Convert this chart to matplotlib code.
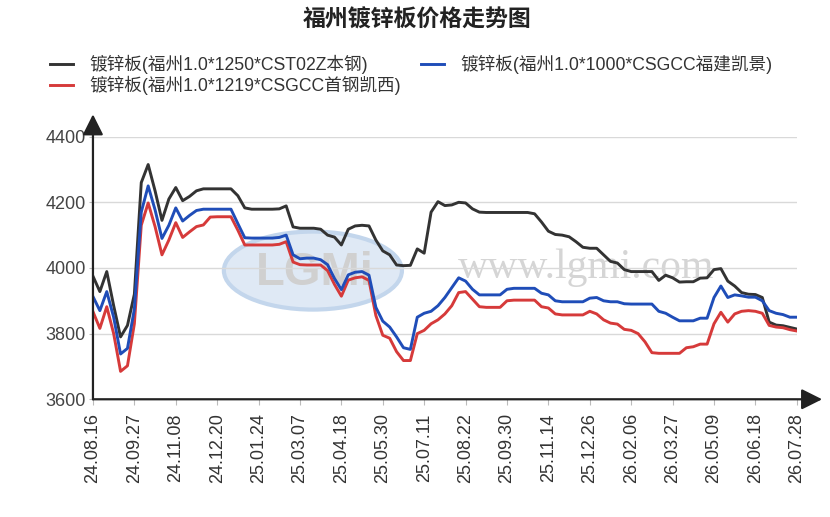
import numpy as np
import matplotlib.pyplot as plt
from matplotlib.patches import Ellipse

plt.rcParams['font.family'] = ['Liberation Sans', 'Noto Sans CJK SC', 'DejaVu Sans']

title = '福州镀锌板价格走势图'
names = ['镀锌板(福州1.0*1250*CST02Z本钢)',
         '镀锌板(福州1.0*1219*CSGCC首钢凯西)',
         '镀锌板(福州1.0*1000*CSGCC福建凯景)']

tick_labels = ['24.08.16', '24.09.27', '24.11.08', '24.12.20', '25.01.24', '25.03.07',
               '25.04.18', '25.05.30', '25.07.11', '25.08.22', '25.09.30', '25.11.14',
               '25.12.26', '26.02.06', '26.03.27', '26.05.09', '26.06.18', '26.07.28']

# 本钢 1250
black = [3975, 3928, 3989, 3885, 3790, 3825, 3920, 4260, 4315, 4235, 4145, 4210,
         4245, 4205, 4218, 4235, 4241, 4241, 4241, 4241, 4241, 4220, 4183, 4179,
         4179, 4179, 4179, 4180, 4189, 4125, 4121, 4121, 4121, 4118, 4100, 4094,
         4070, 4118, 4128, 4130, 4128, 4085, 4052, 4040, 4009, 4007, 4008, 4058,
         4045, 4170, 4202, 4190, 4192, 4200, 4198, 4180, 4170, 4169, 4169, 4169,
         4169, 4169, 4169, 4169, 4165, 4140, 4112, 4102, 4100, 4095, 4080, 4063,
         4060, 4060, 4040, 4020, 4015, 3995, 3989, 3989, 3989, 3989, 3962, 3978,
         3970, 3957, 3958, 3958, 3969, 3970, 3995, 3998, 3960, 3945, 3925, 3920,
         3919, 3910, 3835, 3826, 3824, 3819, 3814]

# 首钢凯西 1219
red = [3867, 3816, 3882, 3800, 3685, 3702, 3830, 4130, 4198, 4126, 4040, 4085,
       4138, 4093, 4110, 4126, 4131, 4155, 4156, 4156, 4156, 4115, 4070, 4070,
       4070, 4070, 4070, 4072, 4080, 4018, 4010, 4009, 4009, 4009, 3992, 3950,
       3914, 3963, 3970, 3973, 3962, 3855, 3795, 3786, 3745, 3718, 3718, 3800,
       3810, 3830, 3842, 3860, 3885, 3925, 3928, 3905, 3882, 3880, 3880, 3880,
       3900, 3902, 3902, 3902, 3902, 3882, 3878, 3860, 3857, 3857, 3857, 3857,
       3868, 3860, 3842, 3832, 3829, 3813, 3810, 3800, 3775, 3742, 3740, 3740,
       3740, 3740, 3757, 3760, 3768, 3768, 3830, 3865, 3835, 3860, 3868, 3870,
       3868, 3862, 3825, 3820, 3818, 3812, 3808]

# 福建凯景 1000
blue = [3913, 3870, 3928, 3850, 3738, 3755, 3875, 4170, 4250, 4177, 4090, 4130,
        4183, 4143, 4160, 4175, 4179, 4179, 4179, 4179, 4179, 4135, 4092, 4091,
        4091, 4091, 4091, 4093, 4100, 4040, 4028, 4030, 4030, 4025, 4010, 3968,
        3934, 3979, 3987, 3989, 3978, 3880, 3838, 3820, 3790, 3757, 3752, 3850,
        3862, 3868, 3885, 3910, 3940, 3970, 3960, 3935, 3918, 3918, 3918, 3918,
        3935, 3938, 3938, 3938, 3938, 3923, 3918, 3900, 3897, 3897, 3897, 3897,
        3908, 3910, 3900, 3897, 3897, 3891, 3890, 3890, 3890, 3890, 3868, 3862,
        3850, 3839, 3839, 3839, 3847, 3847, 3910, 3945, 3910, 3918, 3915, 3911,
        3911, 3900, 3870, 3862, 3858, 3850, 3850]

x = np.arange(len(black))
step = (len(black) - 1) // (len(tick_labels) - 1)

fig = plt.figure(figsize=(8.3, 5.17), dpi=100)
ax = fig.add_axes([0.112, 0.2277, 0.848, 0.508])

# watermark
ax.add_patch(Ellipse((0.3125, 0.49), 0.253, 0.297, transform=ax.transAxes,
                     facecolor='#dfe9f5', edgecolor='#c3d6ec', lw=3, zorder=0))
ax.text(0.315, 0.48, 'LGMi', transform=ax.transAxes, ha='center', va='center',
        fontsize=34, fontweight='bold', color='#d0d0d0', zorder=0.5)
ax.text(0.70, 0.5, 'www.lgmi.com', transform=ax.transAxes, ha='center', va='center',
        fontsize=30, family='Liberation Serif', color='#d5d5d5', zorder=0.5)

ax.plot(x, black, color='#333333', lw=2.1, label=names[0], zorder=3, solid_joinstyle='round')
ax.plot(x, red, color='#d63a3a', lw=2.1, label=names[1], zorder=3, solid_joinstyle='round')
ax.plot(x, blue, color='#1f4db8', lw=2.1, label=names[2], zorder=3, solid_joinstyle='round')

ax.set_xlim(0, len(black) - 1)
ax.set_ylim(3600, 4400)
ax.set_yticks([3600, 3800, 4000, 4200, 4400])
ax.set_xticks(x[::step])
ax.set_xticklabels(tick_labels, rotation=90)
ax.tick_params(axis='x', length=4, color='#bbbbbb', labelsize=13, labelcolor='#333333', pad=6)
ax.tick_params(axis='y', length=3, color='#bbbbbb', labelsize=13, labelcolor='#444444', pad=2)
ax.grid(axis='y', color='#d9d9d9', lw=1)
ax.set_axisbelow(True)
for s in ax.spines.values():
    s.set_visible(False)

# axis arrows
arrow = dict(arrowstyle='-|>,head_length=0.9,head_width=0.45', color='#222222', lw=1.6,
             shrinkA=0, shrinkB=0, mutation_scale=14)
ax.annotate('', xy=(0, 1.085), xytext=(0, 0), xycoords='axes fraction',
            arrowprops=arrow, annotation_clip=False)
ax.annotate('', xy=(1.036, 0), xytext=(0, 0), xycoords='axes fraction',
            arrowprops=arrow, annotation_clip=False)

fig.text(0.503, 0.962, title, ha='center', va='center', fontsize=16.5, fontweight='bold',
         family=['Noto Sans CJK SC'], color='#222222')

leg = fig.legend(loc='upper left', bbox_to_anchor=(50 / 830, 1 - 55 / 517), ncol=2, frameon=False,
                 prop={'family': ['Liberation Sans', 'Noto Sans CJK SC'], 'size': 12.7},
                 handlelength=1.3, handletextpad=0.95, columnspacing=1.1, labelspacing=0.1,
                 borderaxespad=0, borderpad=0)
for t in leg.get_texts():
    t.set_color('#333333')

fig.savefig('out.png', dpi=100)
